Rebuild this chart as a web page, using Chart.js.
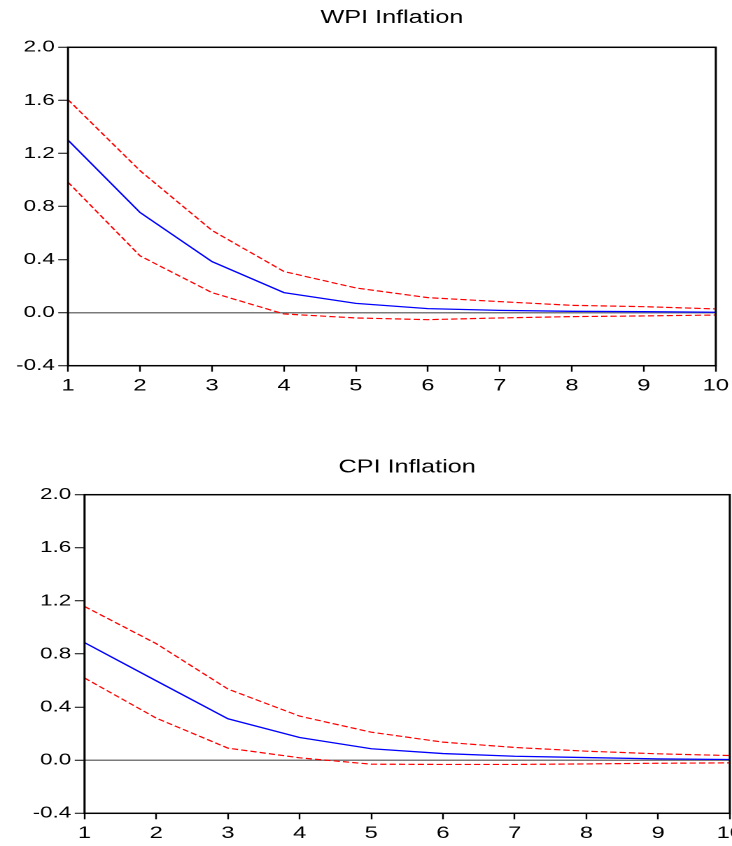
<!DOCTYPE html>
<html>
<head>
<meta charset="utf-8">
<script src="https://cdn.jsdelivr.net/npm/chart.js@4"></script>
<style>
  html, body { margin: 0; padding: 0; background: #fff; }
  body { width: 732px; height: 846px; position: relative; overflow: hidden; }
  .panel { position: absolute; left: 0; width: 523px; height: 423px; transform-origin: 0 0; transform: scaleX(1.39962); }
  #p1 { top: 0; }
  #p2 { top: 423px; }
</style>
</head>
<body>
<div class="panel" id="p1"><canvas id="c1" width="523" height="423"></canvas></div>
<div class="panel" id="p2"><canvas id="c2" width="523" height="423"></canvas></div>
<script>
// ---- data ----
const periods = ['1', '2', '3', '4', '5', '6', '7', '8', '9', '10'];
const yTickValues = [-0.4, 0.0, 0.4, 0.8, 1.2, 1.6, 2.0];

const wpiResponse = [1.30, 0.755, 0.385, 0.151, 0.07, 0.03, 0.017, 0.01, 0.007, 0.003];
const wpiUpper    = [1.605, 1.07, 0.62, 0.31, 0.186, 0.113, 0.083, 0.055, 0.045, 0.028];
const wpiLower    = [0.983, 0.428, 0.151, -0.01, -0.04, -0.053, -0.04, -0.03, -0.025, -0.018];

const cpiResponse = [0.886, 0.598, 0.312, 0.171, 0.086, 0.05, 0.03, 0.02, 0.01, 0.005];
const cpiUpper    = [1.158, 0.878, 0.536, 0.332, 0.211, 0.136, 0.096, 0.068, 0.048, 0.035];
const cpiLower    = [0.619, 0.317, 0.091, 0.018, -0.03, -0.032, -0.032, -0.028, -0.023, -0.02];

const FONT = '"Liberation Sans", Arial, sans-serif';

const framePlugin = {
  id: 'frame',
  afterDraw(chart) {
    const a = chart.chartArea, ctx = chart.ctx;
    ctx.save();
    ctx.strokeStyle = '#000';
    ctx.lineWidth = 1.5;
    ctx.strokeRect(a.left, a.top, a.right - a.left, a.bottom - a.top);
    ctx.restore();
  }
};

function makeChart(id, title, resp, up, lo, cfg) {
  const dashed = (data) => ({
    data, borderColor: '#ff0000', borderWidth: 1.2, borderDash: [4.5, 2.2],
    pointRadius: 0, tension: 0, fill: false
  });
  return new Chart(document.getElementById(id), {
    type: 'line',
    data: {
      labels: periods,
      datasets: [
        dashed(up),
        dashed(lo),
        { data: resp, borderColor: '#0000ff', borderWidth: 1.3, pointRadius: 0, tension: 0, fill: false }
      ]
    },
    options: {
      responsive: false,
      animation: false,
      devicePixelRatio: 2,
      layout: { padding: { left: 0, top: 0, right: cfg.padRight, bottom: cfg.padBottom } },
      plugins: {
        legend: { display: false },
        tooltip: { enabled: false },
        title: {
          display: true, text: title, color: '#000', fullSize: false,
          font: { family: FONT, size: 18, weight: 'normal' },
          padding: { top: cfg.titleTop, bottom: cfg.titleBottom }
        }
      },
      scales: {
        x: {
          type: 'category',
          grid: { display: true, drawOnChartArea: false, drawTicks: true, tickLength: 6, tickColor: '#000', tickWidth: 1.2 },
          border: { display: false },
          ticks: { color: '#000', font: { family: FONT, size: 17 }, padding: 4, autoSkip: false, maxRotation: 0 },
          afterFit: (s) => { s.height = 30; s.paddingLeft = 0; s.paddingRight = 0; }
        },
        y: {
          type: 'linear', min: -0.4, max: 2.0,
          afterBuildTicks: (s) => { s.ticks = yTickValues.map(v => ({ value: v })); },
          grid: {
            drawOnChartArea: true, drawTicks: true, tickLength: 7, tickColor: '#000', tickWidth: 1,
            color: (c) => (c.tick && Math.abs(c.tick.value) < 1e-9) ? '#7a7a7a' : 'rgba(0,0,0,0)',
            lineWidth: 1.5
          },
          border: { display: false },
          ticks: {
            color: '#000', font: { family: FONT, size: 16 }, padding: 2.5,
            callback: (v) => (Math.abs(v) < 1e-9 ? 0 : v).toFixed(1)
          },
          afterFit: (s) => { s.width = cfg.yWidth; s.paddingTop = 0; s.paddingBottom = 0; }
        }
      }
    },
    plugins: [framePlugin]
  });
}

makeChart('c1', 'WPI Inflation', wpiResponse, wpiUpper, wpiLower,
  { padRight: 11.6, padBottom: 27.3, titleTop: 7, titleBottom: 18.7, yWidth: 48.6 });
makeChart('c2', 'CPI Inflation', cpiResponse, cpiUpper, cpiLower,
  { padRight: 1.6, padBottom: 2.7, titleTop: 33.9, titleBottom: 16.2, yWidth: 60.4 });
</script>
</body>
</html>
